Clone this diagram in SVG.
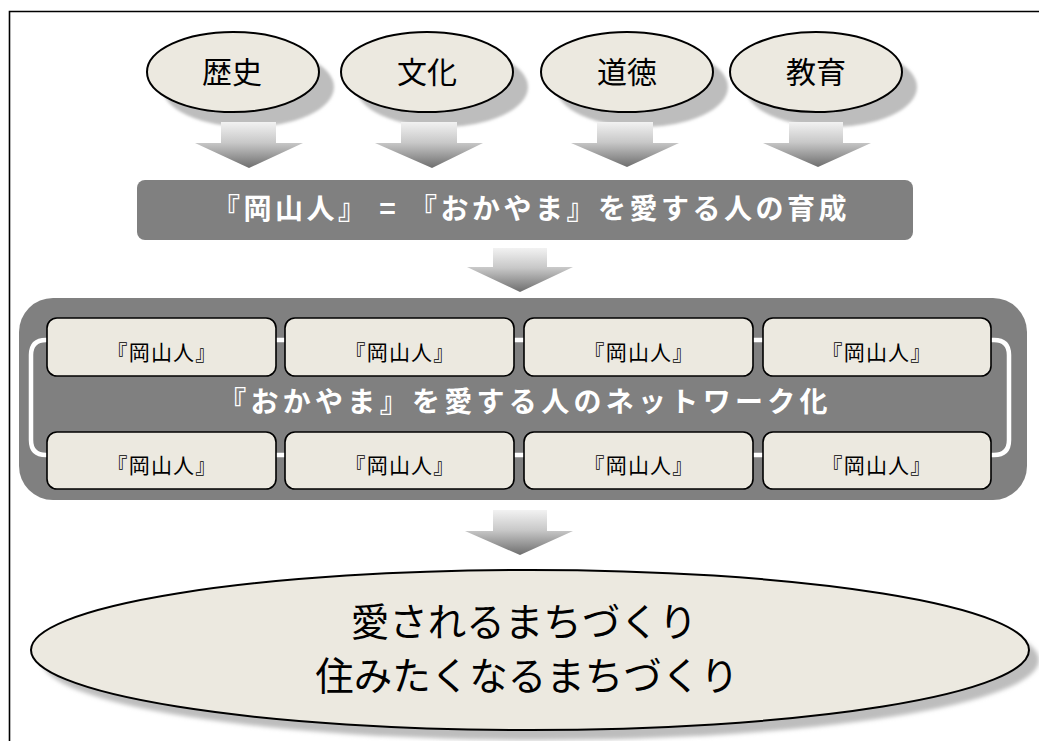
<svg xmlns="http://www.w3.org/2000/svg" width="1039" height="741" viewBox="0 0 1039 741">
<defs>
<style>
.oval{fill:#ECE9E0;stroke:#000;stroke-width:2}
.shadow{fill:#bdbdbd;filter:url(#blur)}
.box{fill:#ECE9E0;stroke:#000;stroke-width:1.6}
.dark{fill:#808080}
.t{font-family:"Noto Sans CJK JP","Noto Sans CJK SC",sans-serif;text-anchor:middle}
.lbl{font-size:30px;fill:#000}
.wt{font-size:28px;font-weight:bold;fill:#fff}
.small{font-size:21px;fill:#000;letter-spacing:1.2px}
.big{font-size:38.5px;fill:#000}
.arrow{fill:url(#ag)}
.link{fill:none;stroke:#fff;stroke-width:4.5}
</style>
<filter id="blur" x="-10%" y="-10%" width="120%" height="120%"><feGaussianBlur stdDeviation="1.5"/></filter>
<filter id="blur2" x="-5%" y="-10%" width="110%" height="120%"><feGaussianBlur stdDeviation="2"/></filter>
<linearGradient id="ag" x1="0" y1="0" x2="0" y2="1">
<stop offset="0" stop-color="#f2f2f2"/>
<stop offset="0.45" stop-color="#c8c8c8"/>
<stop offset="1" stop-color="#6e6e6e"/>
</linearGradient>
</defs>
<rect width="1039" height="741" fill="#fff"/>
<path d="M9.5,741 V11.5 H1039" fill="none" stroke="#000" stroke-width="1.6"/>

<g id="node-rekishi">
<ellipse class="shadow" cx="248" cy="87" rx="86" ry="40"/>
<ellipse class="oval" cx="233" cy="72" rx="86" ry="40"/>
<text class="t lbl" x="232" y="83">歴史</text>
</g>
<g id="node-bunka">
<ellipse class="shadow" cx="442" cy="87" rx="86" ry="40"/>
<ellipse class="oval" cx="427" cy="72" rx="86" ry="40"/>
<text class="t lbl" x="427" y="83">文化</text>
</g>
<g id="node-doutoku">
<ellipse class="shadow" cx="642" cy="87" rx="86" ry="40"/>
<ellipse class="oval" cx="627" cy="72" rx="86" ry="40"/>
<text class="t lbl" x="627" y="83">道徳</text>
</g>
<g id="node-kyouiku">
<ellipse class="shadow" cx="831" cy="87" rx="86" ry="40"/>
<ellipse class="oval" cx="816" cy="72" rx="86" ry="40"/>
<text class="t lbl" x="816" y="83">教育</text>
</g>

<g id="node-ikusei">
<rect class="dark" x="137" y="180" width="776" height="60" rx="8"/>
<text class="t wt" x="531" y="219" letter-spacing="3.5">『岡山人』 = 『おかやま』を愛する人の育成</text>
</g>

<g id="node-network">
<rect class="dark" x="19" y="298" width="1008" height="202" rx="34"/>
<text class="t wt" x="525" y="412" font-size="29" letter-spacing="4.3">『おかやま』を愛する人のネットワーク化</text>
</g>

<g id="connectors">
<path class="arrow" d="M221,122 H276 V143 H303 L249,168 L195,143 H221 Z"/>
<path class="arrow" d="M401,122 H457 V143 H483 L432,168 L375,143 H401 Z"/>
<path class="arrow" d="M597,122 H653 V143 H679 L627,167 L571,143 H597 Z"/>
<path class="arrow" d="M789,122 H843 V143 H871 L818,167 L763,143 H789 Z"/>
<path class="arrow" d="M493,248 H547 V267 H573 L520,292 L467,267 H493 Z"/>
<path class="arrow" d="M493,510 H547 V531 H573 L520,555 L465,531 H493 Z"/>
<path class="link" d="M47,340 H46 Q31,340 31,355 V440 Q31,455 46,455 H47"/>
<path class="link" d="M991,340 H994 Q1009,340 1009,355 V440 Q1009,455 994,455 H991"/>
<path class="link" d="M276,340 H285 M514,340 H524 M753,340 H763 M276,455 H285 M514,455 H524 M753,455 H763"/>
</g>

<g id="node-r1c1"><rect class="box" x="47" y="318" width="229" height="58" rx="10"/><text class="t small" x="162" y="360">『岡山人』</text></g>
<g id="node-r1c2"><rect class="box" x="285" y="318" width="229" height="58" rx="10"/><text class="t small" x="400" y="360">『岡山人』</text></g>
<g id="node-r1c3"><rect class="box" x="524" y="318" width="229" height="58" rx="10"/><text class="t small" x="639" y="360">『岡山人』</text></g>
<g id="node-r1c4"><rect class="box" x="763" y="318" width="228" height="58" rx="10"/><text class="t small" x="877" y="360">『岡山人』</text></g>
<g id="node-r2c1"><rect class="box" x="47" y="432" width="229" height="57" rx="10"/><text class="t small" x="162" y="473">『岡山人』</text></g>
<g id="node-r2c2"><rect class="box" x="285" y="432" width="229" height="57" rx="10"/><text class="t small" x="400" y="473">『岡山人』</text></g>
<g id="node-r2c3"><rect class="box" x="524" y="432" width="229" height="57" rx="10"/><text class="t small" x="639" y="473">『岡山人』</text></g>
<g id="node-r2c4"><rect class="box" x="763" y="432" width="228" height="57" rx="10"/><text class="t small" x="877" y="473">『岡山人』</text></g>

<g id="node-machizukuri">
<ellipse cx="540" cy="660" rx="499" ry="80" fill="#bdbdbd" filter="url(#blur2)"/>
<ellipse class="oval" cx="530" cy="650" rx="499" ry="80"/>
<text class="t big" x="524" y="636">愛されるまちづくり</text>
<text class="t big" x="527" y="690">住みたくなるまちづくり</text>
</g>
</svg>
